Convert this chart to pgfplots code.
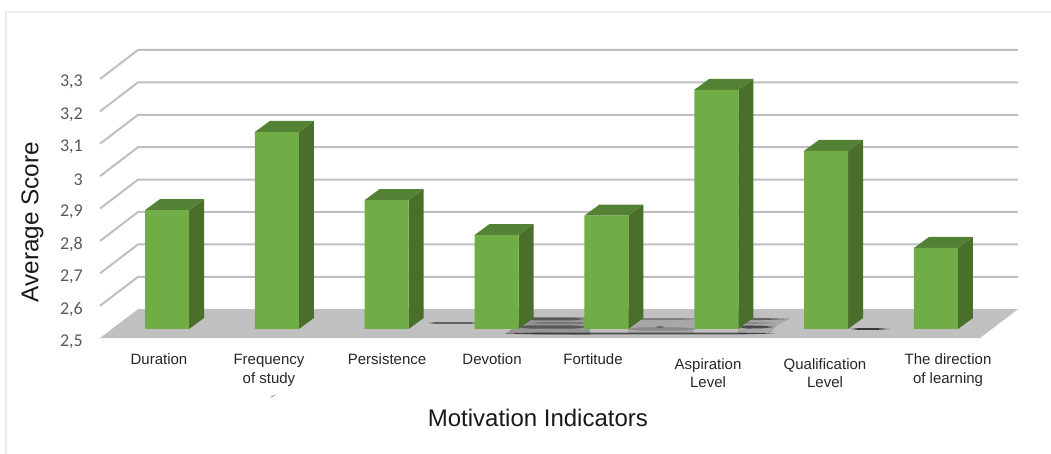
\documentclass[border=0pt]{standalone}
\usepackage{fontspec}
\setmainfont{Liberation Sans}
\newfontfamily\carlito{Carlito}
\usepackage{pgfplots}
\pgfplotsset{compat=1.18}
\definecolor{barfront}{HTML}{70AD47}
\definecolor{bartop}{HTML}{548235}
\definecolor{barside}{HTML}{4A6F2A}
\definecolor{gridc}{HTML}{BFBFBF}
\definecolor{floorc}{HTML}{C0C0C0}
\begin{document}
\begin{tikzpicture}[x=1pt,y=1pt]
\useasboundingbox (0,0) rectangle (1051,454);
\begin{axis}[
  at={(100pt,125pt)}, anchor=south west,
  scale only axis, width=918pt, height=279pt,
  xmin=-0.610, xmax=7.747, ymin=2.5, ymax=3.3611,
  clip=false,
  axis line style={draw=none},
  tick style={draw=none},
  ytick={2.5,2.6,2.7,2.8,2.9,3.0,3.1,3.2,3.3},
  yticklabels={{2,5},{2,6},{2,7},{2,8},{2,9},{3},{3,1},{3,2},{3,3}},
  yticklabel style={font=\carlito\fontsize{18}{20}\selectfont, text=black!65, anchor=east, inner sep=0pt, xshift=-17pt, yshift=-12.5pt},
  xtick={-0.073,0.928,2.003,2.959,3.878,7.110},
  xticklabels={Duration,{Frequency\\of study},Persistence,Devotion,Fortitude,{The direction\\of learning}},
  xticklabel style={font=\fontsize{15}{19}\selectfont, text=black!85, align=center, anchor=north, inner sep=0pt, yshift=-24.5pt},
  extra x ticks={4.925,5.990},
  extra x tick labels={{Aspiration\\Level},{Qualification\\Level}},
  extra x tick style={xticklabel style={font=\fontsize{15}{17.5}\selectfont, yshift=-5pt}},
  xlabel={Motivation Indicators},
  xlabel style={font=\fontsize{24}{28}\selectfont, text=black!90, at={(axis description cs:0.477,-0.319)}, anchor=center},
  ylabel={Average Score},
  ylabel style={font=\fontsize{24.3}{28}\selectfont, text=black!90, at={(axis description cs:-0.0735,0.3835)}, anchor=center},
]
% page frame and stray mark
\addplot[draw=black!7, line width=1.5pt] coordinates {(8.047,3.478) (-1.466,3.478) (-1.466,2.114)};
\addplot[draw=black!50, line width=0.7pt] coordinates {(0.947,2.290) (0.983,2.296)};
% floor
\addplot[fill=floorc, draw=none] coordinates {(-0.610,2.4722) (-0.264,2.5611) (7.747,2.5611) (7.401,2.4722)} --cycle;
% grid: back wall and left wall
\addplot[gridc, line width=2pt] coordinates {(-0.610,3.2716) (-0.264,3.3611) (7.747,3.3611)};
\addplot[gridc, line width=2pt] coordinates {(-0.610,3.1716) (-0.264,3.2611) (7.747,3.2611)};
\addplot[gridc, line width=2pt] coordinates {(-0.610,3.0716) (-0.264,3.1611) (7.747,3.1611)};
\addplot[gridc, line width=2pt] coordinates {(-0.610,2.9716) (-0.264,3.0611) (7.747,3.0611)};
\addplot[gridc, line width=2pt] coordinates {(-0.610,2.8716) (-0.264,2.9611) (7.747,2.9611)};
\addplot[gridc, line width=2pt] coordinates {(-0.610,2.7716) (-0.264,2.8611) (7.747,2.8611)};
\addplot[gridc, line width=2pt] coordinates {(-0.610,2.6716) (-0.264,2.7611) (7.747,2.7611)};
\addplot[gridc, line width=2pt] coordinates {(-0.610,2.5716) (-0.264,2.6611) (7.747,2.6611)};
% smudges on the floor: washes
\addplot[fill=black, fill opacity=.22, draw=none] coordinates {(3.077,2.4846) (3.304,2.537) (3.851,2.537) (3.851,2.4815)} --cycle;
\addplot[fill=black, fill opacity=.13, draw=none] coordinates {(4.197,2.534) (4.797,2.534) (4.797,2.4877) (4.197,2.4877)} --cycle;
\addplot[fill=black, fill opacity=.13, draw=none] coordinates {(5.198,2.5278) (5.671,2.5324) (5.535,2.5062) (5.489,2.4846) (5.198,2.4846)} --cycle;
% smudges: tapered streaks
\addplot[fill=black, fill opacity=.5, draw=none] coordinates {(2.376,2.5185) (2.45,2.5215) (2.75,2.5215) (2.849,2.5185) (2.75,2.5155) (2.45,2.5155)} --cycle;
\addplot[fill=black, fill opacity=.4, draw=none] coordinates {(3.259,2.5309) (3.35,2.5349) (3.7,2.5349) (3.805,2.5309) (3.7,2.5269) (3.35,2.5269)} --cycle;
\addplot[fill=black, fill opacity=.2, draw=none] coordinates {(3.304,2.5185) (3.4,2.5215) (3.75,2.5215) (3.851,2.5185) (3.75,2.5155) (3.4,2.5155)} --cycle;
\addplot[fill=black, fill opacity=.4, draw=none] coordinates {(3.168,2.5062) (3.3,2.5112) (3.7,2.5112) (3.851,2.5062) (3.7,2.5012) (3.3,2.5012)} --cycle;
\addplot[fill=black, fill opacity=.6, draw=none] coordinates {(3.077,2.4861) (3.4,2.4891) (5.2,2.4891) (5.535,2.4861) (5.2,2.4831) (3.4,2.4831)} --cycle;
\addplot[fill=black, fill opacity=.25, draw=none] coordinates {(4.169,2.5309) (4.3,2.5334) (4.7,2.5334) (4.852,2.5309) (4.7,2.5284) (4.3,2.5284)} --cycle;
\addplot[fill=black, fill opacity=.18, draw=none] coordinates {(4.169,2.5) (4.3,2.505) (4.7,2.505) (4.852,2.5) (4.7,2.495) (4.3,2.495)} --cycle;
\addplot[fill=black, fill opacity=.5, draw=none] coordinates {(4.442,2.5062) (4.488,2.5085) (4.533,2.5062) (4.488,2.5039)} --cycle;
\addplot[fill=black, fill opacity=.45, draw=none] coordinates {(5.171,2.5309) (5.25,2.5349) (5.45,2.5339) (5.671,2.5309) (5.45,2.5279) (5.25,2.5269)} --cycle;
\addplot[fill=black, fill opacity=.2, draw=none] coordinates {(5.198,2.5185) (5.3,2.5215) (5.42,2.5205) (5.535,2.5185) (5.42,2.5165) (5.3,2.5155)} --cycle;
\addplot[fill=black, fill opacity=.55, draw=none] coordinates {(5.198,2.5062) (5.28,2.5112) (5.42,2.5102) (5.535,2.5062) (5.42,2.5022) (5.28,2.5012)} --cycle;
\addplot[fill=black, fill opacity=.7, draw=none] coordinates {(6.217,2.5) (6.3,2.503) (6.45,2.503) (6.582,2.5) (6.45,2.497) (6.3,2.497)} --cycle;
% side faces
\addplot[fill=barside, draw=none] coordinates {(0.2003,2.5) (0.3369,2.534) (0.3369,2.901) (0.2003,2.867)} --cycle;
\addplot[fill=barside, draw=none] coordinates {(1.2003,2.5) (1.3369,2.534) (1.3369,3.142) (1.2003,3.108)} --cycle;
\addplot[fill=barside, draw=none] coordinates {(2.2003,2.5) (2.3369,2.534) (2.3369,2.932) (2.2003,2.898)} --cycle;
\addplot[fill=barside, draw=none] coordinates {(3.2003,2.5) (3.3369,2.534) (3.3369,2.824) (3.2003,2.79)} --cycle;
\addplot[fill=barside, draw=none] coordinates {(4.2003,2.5) (4.3369,2.534) (4.3369,2.884) (4.2003,2.85)} --cycle;
\addplot[fill=barside, draw=none] coordinates {(5.2003,2.5) (5.3369,2.534) (5.3369,3.272) (5.2003,3.238)} --cycle;
\addplot[fill=barside, draw=none] coordinates {(6.2003,2.5) (6.3369,2.534) (6.3369,3.084) (6.2003,3.05)} --cycle;
\addplot[fill=barside, draw=none] coordinates {(7.2003,2.5) (7.3369,2.534) (7.3369,2.784) (7.2003,2.75)} --cycle;
% top faces
\addplot[fill=bartop, draw=none] coordinates {(-0.2003,2.867) (-0.0637,2.901) (0.3369,2.901) (0.2003,2.867)} --cycle;
\addplot[fill=bartop, draw=none] coordinates {(0.7997,3.108) (0.9363,3.142) (1.3369,3.142) (1.2003,3.108)} --cycle;
\addplot[fill=bartop, draw=none] coordinates {(1.7997,2.898) (1.9363,2.932) (2.3369,2.932) (2.2003,2.898)} --cycle;
\addplot[fill=bartop, draw=none] coordinates {(2.7997,2.79) (2.9363,2.824) (3.3369,2.824) (3.2003,2.79)} --cycle;
\addplot[fill=bartop, draw=none] coordinates {(3.7997,2.85) (3.9363,2.884) (4.3369,2.884) (4.2003,2.85)} --cycle;
\addplot[fill=bartop, draw=none] coordinates {(4.7997,3.238) (4.9363,3.272) (5.3369,3.272) (5.2003,3.238)} --cycle;
\addplot[fill=bartop, draw=none] coordinates {(5.7997,3.05) (5.9363,3.084) (6.3369,3.084) (6.2003,3.05)} --cycle;
\addplot[fill=bartop, draw=none] coordinates {(6.7997,2.75) (6.9363,2.784) (7.3369,2.784) (7.2003,2.75)} --cycle;
% front faces: the values
\addplot[ybar, bar width=44pt, bar shift=0pt, fill=barfront, draw=none] coordinates {
  (0,2.867) (1,3.108) (2,2.898) (3,2.79) (4,2.85) (5,3.238) (6,3.05) (7,2.75)};
\end{axis}
\end{tikzpicture}
\end{document}
